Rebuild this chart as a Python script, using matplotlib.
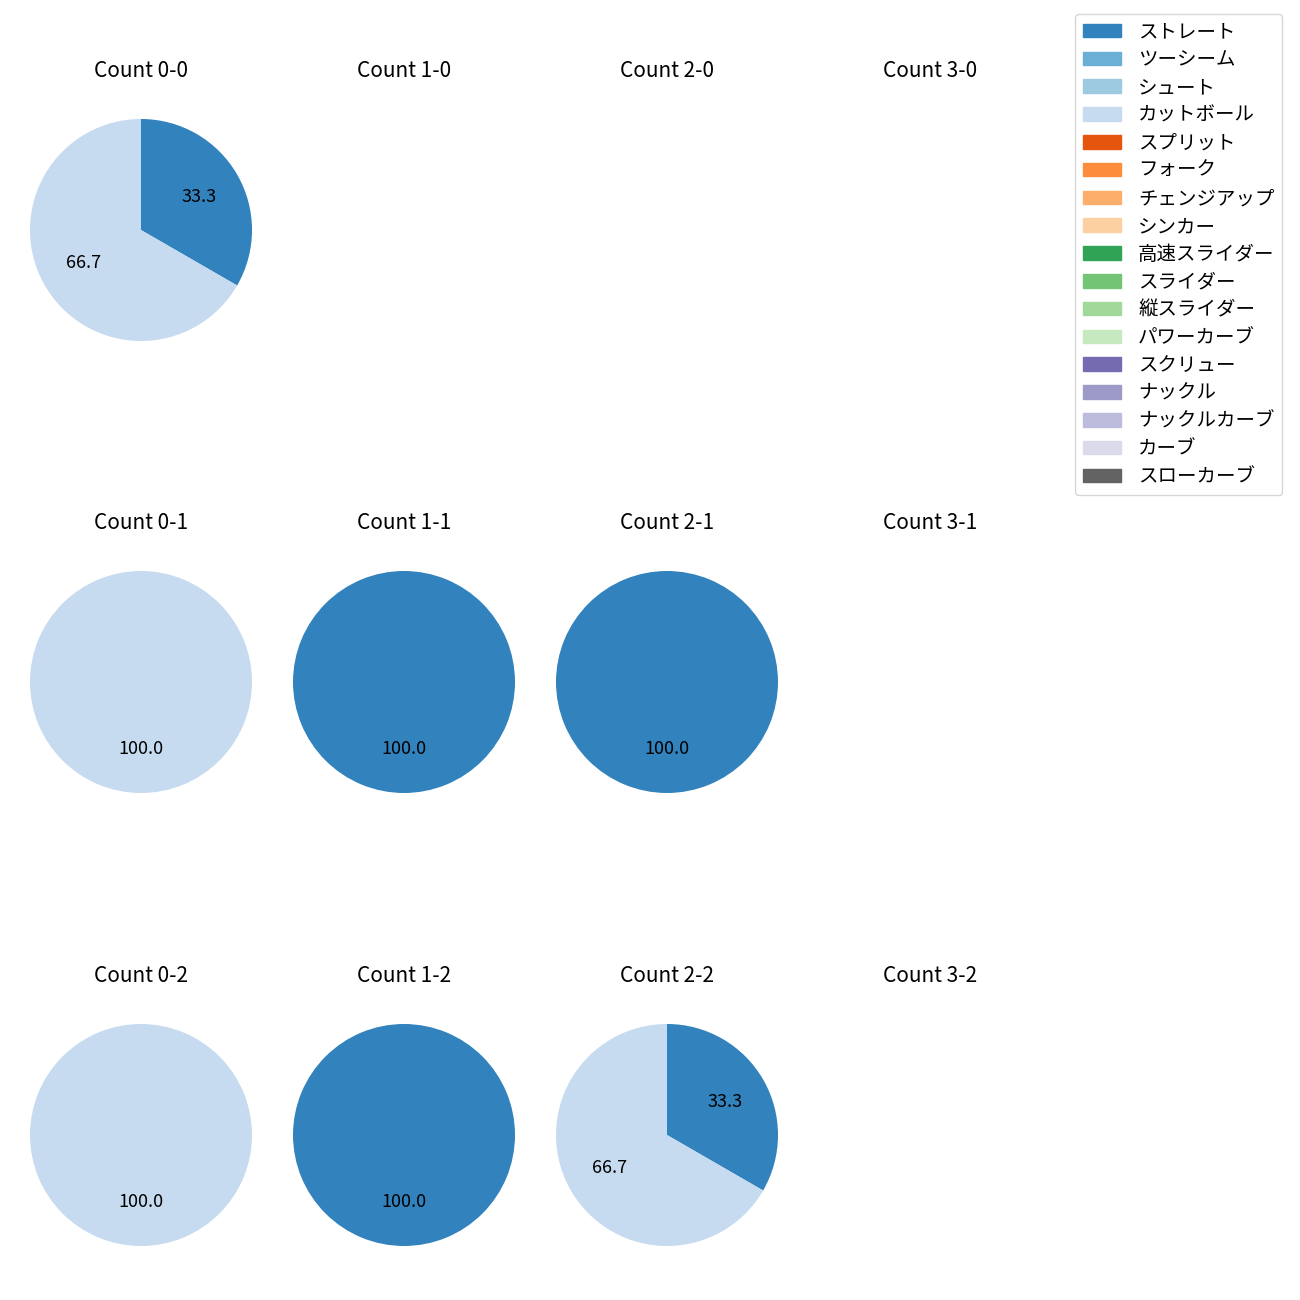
import matplotlib
matplotlib.use("Agg")
import matplotlib.pyplot as plt
import matplotlib.patches as mpatches
import numpy as np

plt.rcParams['font.family'] = ['Noto Sans CJK JP', 'DejaVu Sans']

pitch_types = ["ストレート", "ツーシーム", "シュート", "カットボール", "スプリット", "フォーク",
               "チェンジアップ", "シンカー", "高速スライダー", "スライダー", "縦スライダー",
               "パワーカーブ", "スクリュー", "ナックル", "ナックルカーブ", "カーブ", "スローカーブ"]
cmap = plt.get_cmap('tab20c')
pitch_colors = [cmap(i) for i in range(17)]

balls = [0, 1, 2, 3]
strikes = [0, 1, 2]
# counts per pitch type for each count (balls-strikes); only non-zero types listed
count_0_0 = {"ストレート": 1, "カットボール": 2}
count_1_0 = {}
count_2_0 = {}
count_3_0 = {}
count_0_1 = {"カットボール": 1}
count_1_1 = {"ストレート": 1}
count_2_1 = {"ストレート": 1}
count_3_1 = {}
count_0_2 = {"カットボール": 1}
count_1_2 = {"ストレート": 1}
count_2_2 = {"ストレート": 1, "カットボール": 2}
count_3_2 = {}
data = {
    (0, 0): count_0_0, (1, 0): count_1_0, (2, 0): count_2_0, (3, 0): count_3_0,
    (0, 1): count_0_1, (1, 1): count_1_1, (2, 1): count_2_1, (3, 1): count_3_1,
    (0, 2): count_0_2, (1, 2): count_1_2, (2, 2): count_2_2, (3, 2): count_3_2,
}

W, H = 1300, 1300
fig = plt.figure(figsize=(13, 13), dpi=100)
col_cx = [141, 404, 667, 930]
row_cy = [230, 682, 1135]
radius_px = 111
size = 2 * radius_px * 1.25

for s in strikes:
    for b in balls:
        cx, cy = col_cx[b], row_cy[s]
        ax = fig.add_axes([(cx - size / 2) / W, 1 - (cy + size / 2) / H, size / W, size / H])
        ax.set_title(f"Count {b}-{s}", fontsize=15, pad=10)
        d = data[(b, s)]
        vals = [d[p] for p in pitch_types if d.get(p, 0) > 0]
        cols = [pitch_colors[i] for i, p in enumerate(pitch_types) if d.get(p, 0) > 0]
        if vals:
            ax.pie(vals, colors=cols, autopct='%.1f', startangle=90, counterclock=False,
                   textprops={'fontsize': 13})
            ax.set_xlim(-1.25, 1.25)
            ax.set_ylim(-1.25, 1.25)
            ax.set_aspect('equal')
        else:
            ax.axis('off')

handles = [mpatches.Patch(color=pitch_colors[i], label=p) for i, p in enumerate(pitch_types)]
fig.legend(handles=handles, loc='upper right', bbox_to_anchor=(0.994, 0.997), fontsize=14,
           labelspacing=0.35, handletextpad=0.88, handlelength=1.95)

fig.savefig("out.png", dpi=100)
